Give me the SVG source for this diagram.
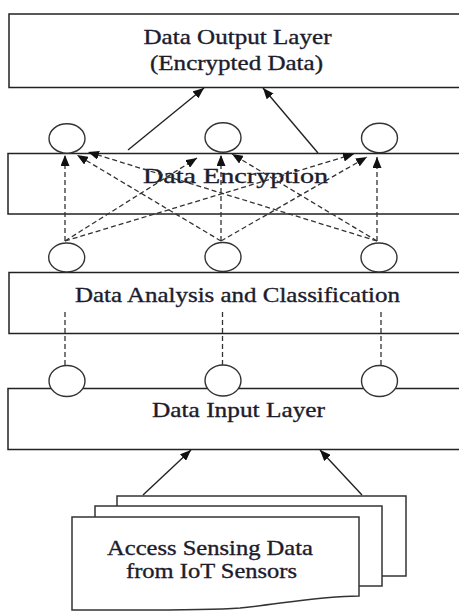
<svg xmlns="http://www.w3.org/2000/svg" width="459" height="611" viewBox="0 0 459 611">
<defs>
<marker id="ah" markerUnits="userSpaceOnUse" markerWidth="11" markerHeight="9" refX="11" refY="4.5" orient="auto">
<path d="M0,0 L11,4.5 L0,9 z" fill="#111"/>
</marker>
<style>
.box{fill:#fff;stroke:#222;stroke-width:1.5}
.doc{fill:#fff;stroke:#333;stroke-width:1.5}
.circ{fill:#fff;stroke:#333;stroke-width:1.4}
.lbl{font-family:"Liberation Serif","Times New Roman",serif;font-size:21.5px;fill:#1c1c2c;stroke:#1c1c2c;stroke-width:0.35;text-anchor:middle}
.solid{stroke:#222;stroke-width:1.4;fill:none;marker-end:url(#ah)}
.dash{stroke:#333;stroke-width:1.3;fill:none;stroke-dasharray:5,3}
.dasharr{stroke:#333;stroke-width:1.3;fill:none;stroke-dasharray:5,3;marker-end:url(#ah)}
</style>
</defs>
<rect width="459" height="611" fill="#fff"/>

<g id="output-layer">
<rect class="box" x="9" y="14" width="470" height="73.5"/>
<text class="lbl" x="237.5" y="44" textLength="188" lengthAdjust="spacingAndGlyphs">Data Output Layer</text>
<text class="lbl" x="236.5" y="70" textLength="173" lengthAdjust="spacingAndGlyphs">(Encrypted Data)</text>
</g>

<g id="encryption-layer">
<rect class="box" x="8" y="153.5" width="470" height="60.5"/>
<text class="lbl" x="235.5" y="183" textLength="185" lengthAdjust="spacingAndGlyphs">Data Encryption</text>
</g>

<g id="analysis-layer">
<rect class="box" x="9" y="272.5" width="470" height="61"/>
<text class="lbl" x="237.5" y="302" textLength="325" lengthAdjust="spacingAndGlyphs">Data Analysis and Classification</text>
</g>

<g id="input-layer">
<rect class="box" x="8" y="388.5" width="470" height="61"/>
<text class="lbl" x="238.5" y="417" textLength="173" lengthAdjust="spacingAndGlyphs">Data Input Layer</text>
</g>

<g id="sensor-data">
<rect class="doc" x="117" y="496" width="289" height="80"/>
<rect class="doc" x="95" y="506" width="287" height="80"/>
<path class="doc" d="M72,610 L72,517 L359,517 L359,596 C320,596 280,604 240,608 C200,611 130,610 72,610 Z"/>
<text class="lbl" x="210" y="555" textLength="206" lengthAdjust="spacingAndGlyphs">Access Sensing Data</text>
<text class="lbl" x="211.5" y="578" textLength="171" lengthAdjust="spacingAndGlyphs">from IoT Sensors</text>
</g>

<g id="connectors">
<line class="solid" x1="128" y1="150" x2="204" y2="88"/>
<line class="solid" x1="318" y1="153" x2="263" y2="88"/>
<line class="solid" x1="143" y1="495" x2="191" y2="450"/>
<line class="solid" x1="362" y1="495" x2="320" y2="450"/>

<line class="dasharr" x1="65" y1="241" x2="65" y2="155"/>
<line class="dasharr" x1="221" y1="241" x2="77" y2="155"/>
<line class="dasharr" x1="377" y1="241" x2="88" y2="152"/>
<line class="dasharr" x1="65" y1="241" x2="197" y2="158"/>
<line class="dasharr" x1="221" y1="241" x2="221" y2="155"/>
<line class="dasharr" x1="377" y1="241" x2="232" y2="154"/>
<line class="dasharr" x1="65" y1="241" x2="354" y2="154"/>
<line class="dasharr" x1="221" y1="241" x2="367" y2="157"/>
<line class="dasharr" x1="377" y1="241" x2="377" y2="157"/>

<line class="dash" x1="65" y1="312" x2="65" y2="366"/>
<line class="dash" x1="222.5" y1="312" x2="222.5" y2="366"/>
<line class="dash" x1="381" y1="312" x2="381" y2="366"/>
</g>

<g id="enc-node-1"><ellipse class="circ" cx="67" cy="138.5" rx="18" ry="14.7"/></g>
<g id="enc-node-2"><ellipse class="circ" cx="223" cy="137.5" rx="18" ry="14.7"/></g>
<g id="enc-node-3"><ellipse class="circ" cx="379.5" cy="138" rx="18" ry="14.7"/></g>

<g id="ana-node-1"><ellipse class="circ" cx="66.7" cy="257.5" rx="18" ry="14.5"/></g>
<g id="ana-node-2"><ellipse class="circ" cx="223" cy="257" rx="18" ry="14.5"/></g>
<g id="ana-node-3"><ellipse class="circ" cx="379" cy="257.5" rx="18" ry="14.5"/></g>

<g id="in-node-1"><ellipse class="circ" cx="67" cy="381" rx="18" ry="15.5"/></g>
<g id="in-node-2"><ellipse class="circ" cx="223" cy="380.5" rx="18" ry="15.5"/></g>
<g id="in-node-3"><ellipse class="circ" cx="379.5" cy="381" rx="18" ry="15.5"/></g>
</svg>
